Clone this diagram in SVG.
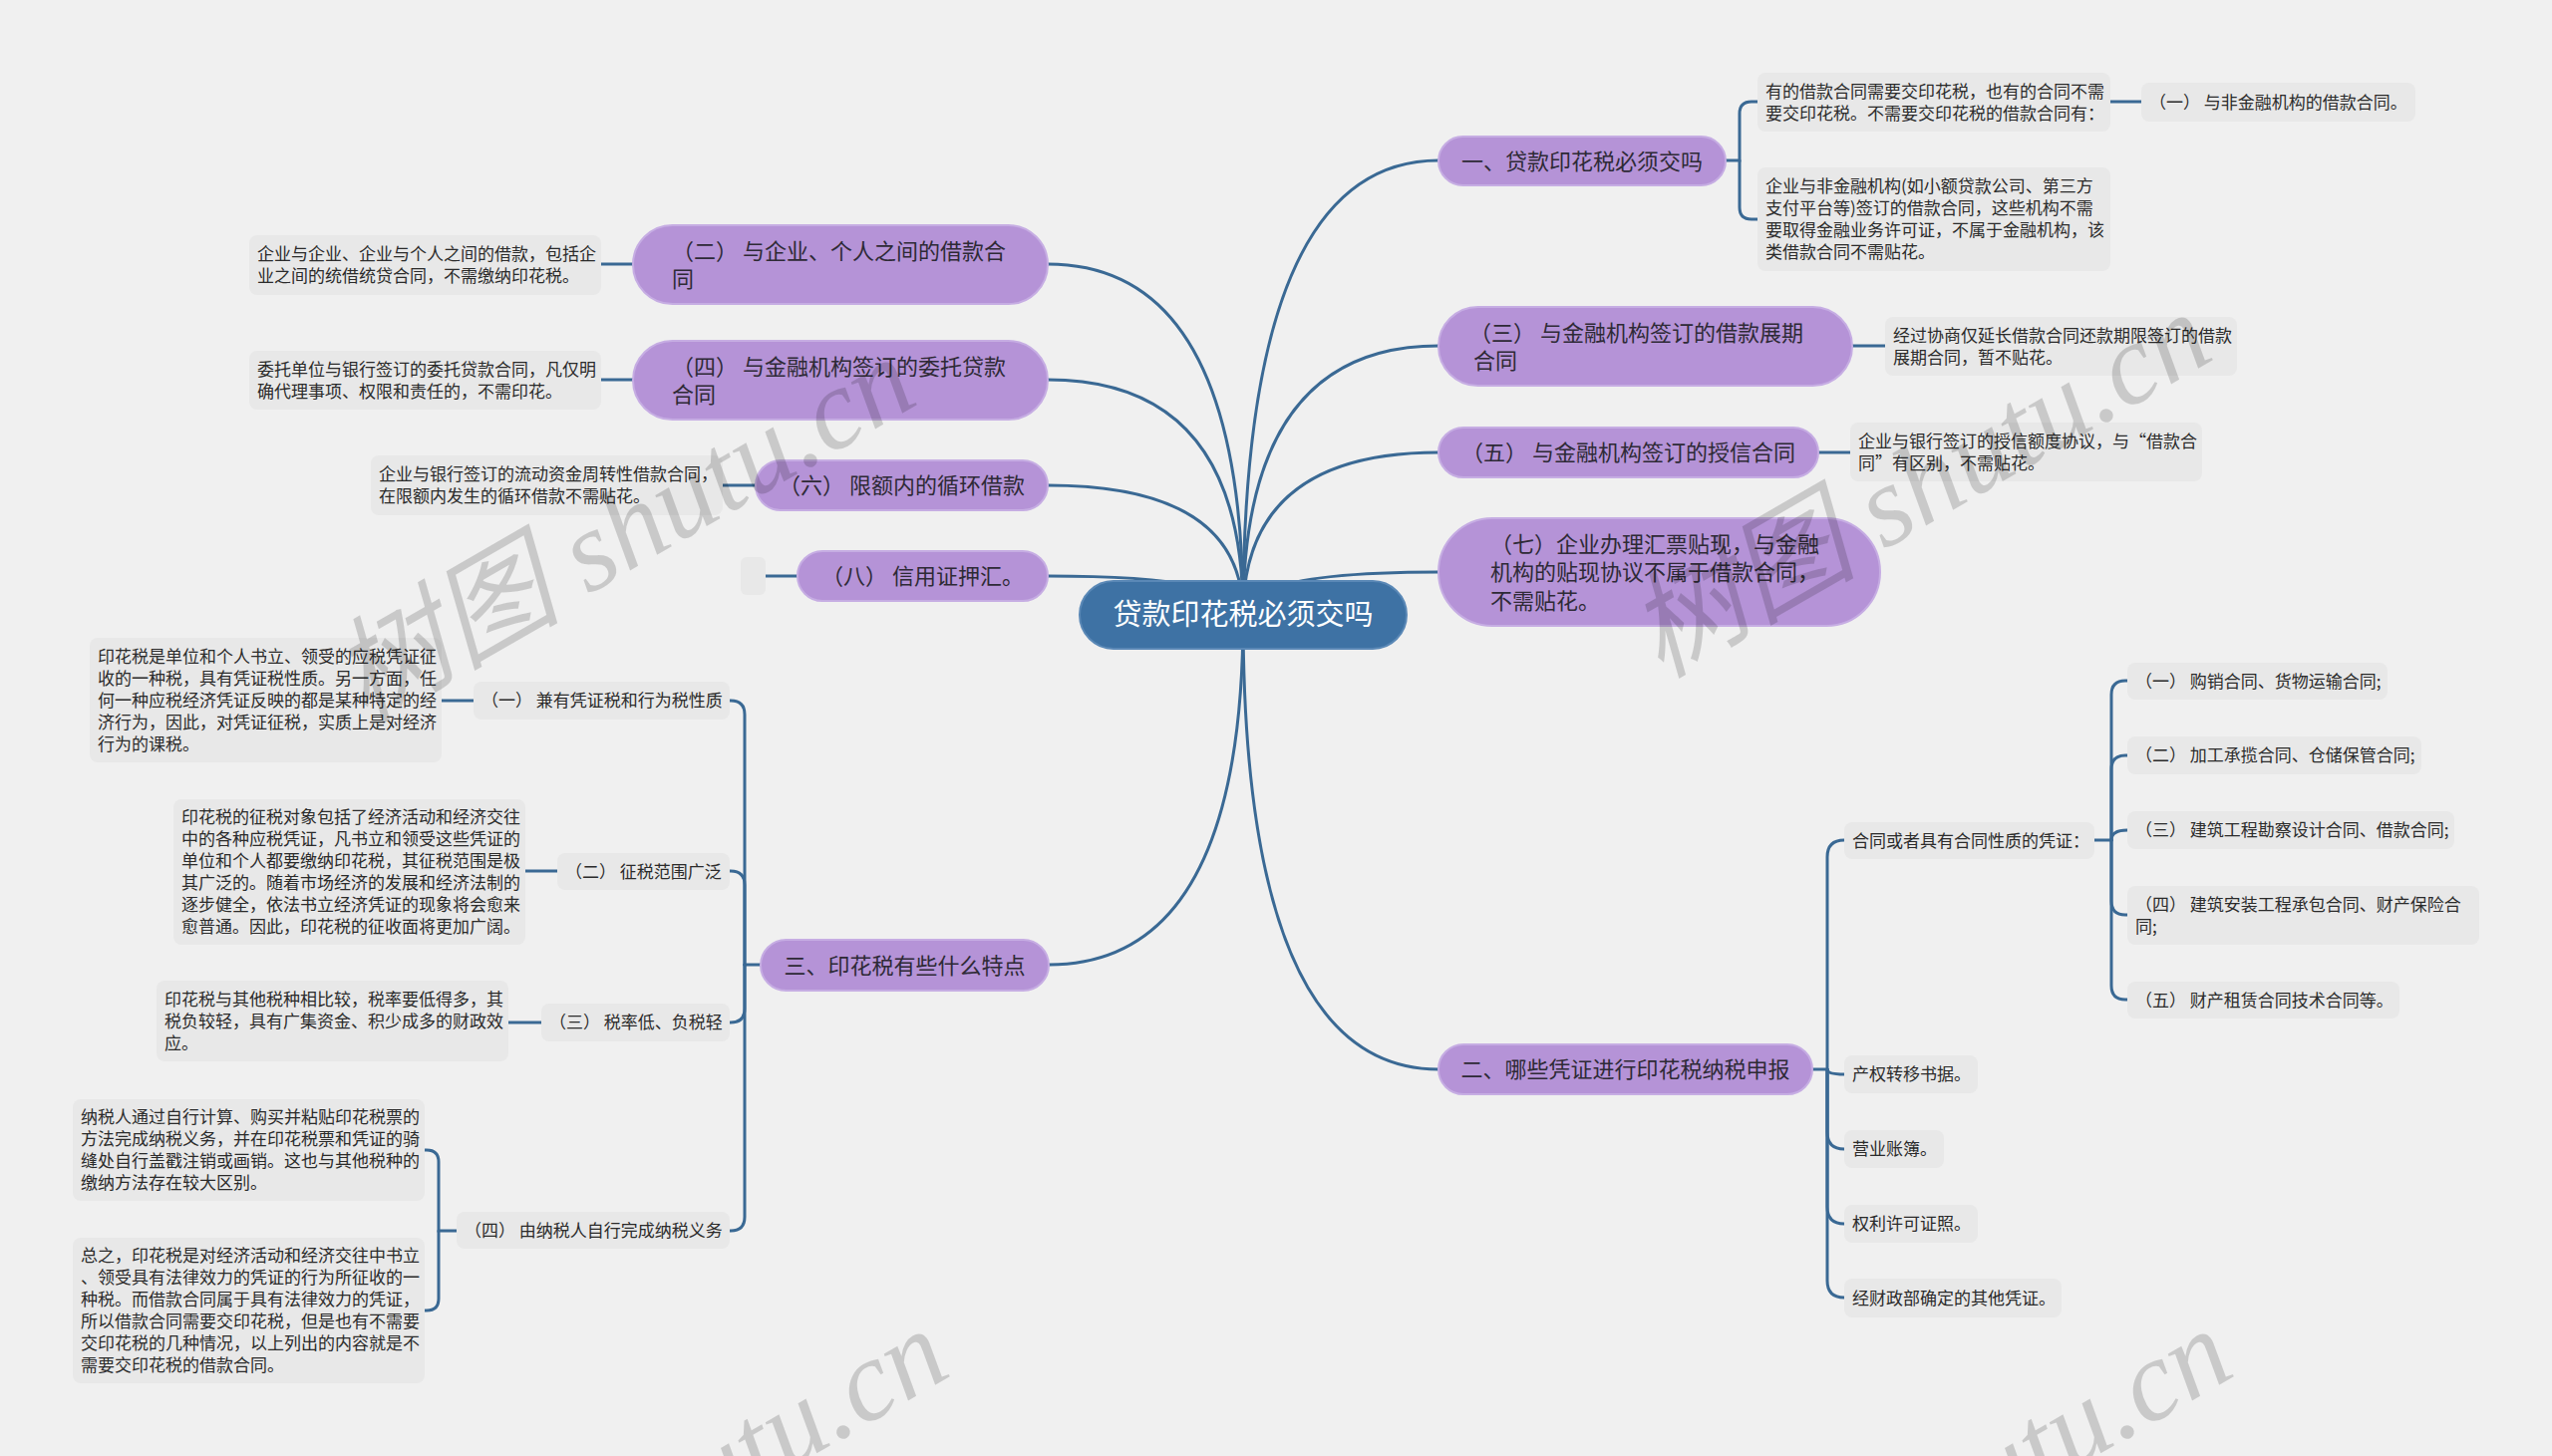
<svg xmlns="http://www.w3.org/2000/svg" width="2560" height="1461" viewBox="0 0 2560 1461">
<style>
.bg{fill:#f0f0f0}
.ln{fill:none;stroke:#3a6994;stroke-width:3;stroke-linecap:round}
.leaf{fill:#e8e8e8}
.main{fill:#b593d7;stroke:#c6ade3;stroke-width:2}
.root{fill:#3e72a4;stroke:#5a88b6;stroke-width:2}
text{font-family:"Noto Sans CJK SC","Noto Sans",sans-serif}
.t17{font-size:17px;fill:#2b2b2b}
.t22{font-size:22px;fill:#2e2a36}
.t29{font-size:29px;fill:#ffffff}
.mid{text-anchor:middle}
.wm{font-family:"Liberation Serif","Noto Sans CJK SC",serif;font-style:italic;font-size:115px;fill:#000;fill-opacity:0.16;text-anchor:middle}
</style>
<rect class="bg" x="0" y="0" width="2560" height="1461"/>

<g id="connectors">
  <path class="ln" d="M1247,617 Q1247,161 1443,161"/>
  <path class="ln" d="M1247,617 Q1247,347 1443,347"/>
  <path class="ln" d="M1247,617 Q1247,454 1443,454"/>
  <path class="ln" d="M1247,617 Q1247,574 1443,574"/>
  <path class="ln" d="M1247,617 Q1247,1073 1443,1073"/>
  <path class="ln" d="M1247,617 Q1247,265 1051,265"/>
  <path class="ln" d="M1247,617 Q1247,381 1051,381"/>
  <path class="ln" d="M1247,617 Q1247,487 1051,487"/>
  <path class="ln" d="M1247,617 Q1247,578 1051,578"/>
  <path class="ln" d="M1247,617 Q1247,968 1052,968"/>
  <path class="ln" d="M1731,161 H1745 V114 Q1745,102 1757,102 H1763"/>
  <path class="ln" d="M1745,161 V208 Q1745,220 1757,220 H1763"/>
  <path class="ln" d="M2117,102 H2148"/>
  <path class="ln" d="M1858,347 H1891"/>
  <path class="ln" d="M1824,454 H1856"/>
  <path class="ln" d="M1818,1073 H1833"/>
  <path class="ln" d="M1833,1073 V860 Q1833,843 1850,843"/>
  <path class="ln" d="M1833,1073 Q1833,1078 1850,1078"/>
  <path class="ln" d="M1833,1073 V1136 Q1833,1153 1850,1153"/>
  <path class="ln" d="M1833,1073 V1211 Q1833,1228 1850,1228"/>
  <path class="ln" d="M1833,1073 V1285 Q1833,1302 1850,1302"/>
  <path class="ln" d="M2101,843 H2118"/>
  <path class="ln" d="M2118,843 V697 Q2118,683 2132,683 H2134"/>
  <path class="ln" d="M2118,843 V772 Q2118,758 2132,758 H2134"/>
  <path class="ln" d="M2118,843 Q2118,833 2134,833"/>
  <path class="ln" d="M2118,843 V904 Q2118,918 2132,918 H2134"/>
  <path class="ln" d="M2118,843 V989 Q2118,1003 2132,1003 H2134"/>
  <path class="ln" d="M635,265 H603"/>
  <path class="ln" d="M635,381 H603"/>
  <path class="ln" d="M758,487 H725"/>
  <path class="ln" d="M800,578 H768"/>
  <path class="ln" d="M763,968 H747"/>
  <path class="ln" d="M747,968 V717 Q747,703 733,703 H732"/>
  <path class="ln" d="M747,968 V888 Q747,874 733,874 H732"/>
  <path class="ln" d="M747,968 V1012 Q747,1026 733,1026 H732"/>
  <path class="ln" d="M747,968 V1221 Q747,1235 733,1235 H732"/>
  <path class="ln" d="M475,703 H443"/>
  <path class="ln" d="M559,874 H527"/>
  <path class="ln" d="M543,1026 H510"/>
  <path class="ln" d="M458,1235 H440 V1166 Q440,1154 428,1154 H426"/>
  <path class="ln" d="M440,1235 V1303 Q440,1315 428,1315 H426"/>
</g>

<g id="root">
  <rect class="root" x="1083" y="583" width="328" height="68" rx="34"/>
  <text class="t29 mid" x="1247" y="627">贷款印花税必须交吗</text>
</g>

<g id="n-yi">
  <rect class="main" x="1443" y="137" width="288" height="49" rx="24.5"/>
  <text class="t22 mid" x="1587" y="169.5">一、贷款印花税必须交吗</text>
</g>
<g id="n-yi-a">
  <rect class="leaf" x="1763" y="73" width="354" height="59" rx="8"/>
  <text class="t17" x="1771"><tspan x="1771" y="97.5">有的借款合同需要交印花税，也有的合同不需</tspan><tspan x="1771" y="119.5">要交印花税。不需要交印花税的借款合同有：</tspan></text>
</g>
<g id="n-yi-a1">
  <rect class="leaf" x="2148" y="83" width="275" height="39" rx="8"/>
  <text class="t17" x="2156" y="108.5">（一） 与非金融机构的借款合同。</text>
</g>
<g id="n-yi-b">
  <rect class="leaf" x="1763" y="168" width="354" height="104" rx="8"/>
  <text class="t17"><tspan x="1771" y="193">企业与非金融机构(如小额贷款公司、第三方</tspan><tspan x="1771" y="215">支付平台等)签订的借款合同，这些机构不需</tspan><tspan x="1771" y="237">要取得金融业务许可证，不属于金融机构，该</tspan><tspan x="1771" y="259">类借款合同不需贴花。</tspan></text>
</g>

<g id="n-san-r">
  <rect class="main" x="1443" y="308" width="415" height="79" rx="39.5"/>
  <text class="t22"><tspan x="1474" y="341.5">（三） 与金融机构签订的借款展期</tspan><tspan x="1478" y="369.5">合同</tspan></text>
</g>
<g id="n-san-r-leaf">
  <rect class="leaf" x="1891" y="318" width="353" height="59" rx="8"/>
  <text class="t17"><tspan x="1899" y="342.5">经过协商仅延长借款合同还款期限签订的借款</tspan><tspan x="1899" y="364.5">展期合同，暂不贴花。</tspan></text>
</g>

<g id="n-wu">
  <rect class="main" x="1443" y="429" width="381" height="50" rx="25"/>
  <text class="t22 mid" x="1633.5" y="462">（五） 与金融机构签订的授信合同</text>
</g>
<g id="n-wu-leaf">
  <rect class="leaf" x="1856" y="424" width="353" height="59" rx="8"/>
  <text class="t17"><tspan x="1864" y="448.5">企业与银行签订的授信额度协议，与“借款合</tspan><tspan x="1864" y="470.5">同”有区别，不需贴花。</tspan></text>
</g>

<g id="n-qi">
  <rect class="main" x="1443" y="520" width="443" height="108" rx="54"/>
  <text class="t22"><tspan x="1495" y="553.5">（七）企业办理汇票贴现，与金融</tspan><tspan x="1495" y="582">机构的贴现协议不属于借款合同，</tspan><tspan x="1495" y="610.5">不需贴花。</tspan></text>
</g>

<g id="n-er-r">
  <rect class="main" x="1443" y="1048" width="375" height="50" rx="25"/>
  <text class="t22 mid" x="1630.5" y="1081">二、哪些凭证进行印花税纳税申报</text>
</g>
<g id="n-er-r-1">
  <rect class="leaf" x="1850" y="825" width="251" height="37" rx="8"/>
  <text class="t17" x="1858" y="849.5">合同或者具有合同性质的凭证：</text>
</g>
<g id="n-er-r-1a">
  <rect class="leaf" x="2134" y="665" width="261" height="37" rx="8"/>
  <text class="t17" x="2142" y="689.5">（一） 购销合同、货物运输合同;</text>
</g>
<g id="n-er-r-1b">
  <rect class="leaf" x="2134" y="739" width="295" height="38" rx="8"/>
  <text class="t17" x="2142" y="764">（二） 加工承揽合同、仓储保管合同;</text>
</g>
<g id="n-er-r-1c">
  <rect class="leaf" x="2134" y="814" width="328" height="38" rx="8"/>
  <text class="t17" x="2142" y="839">（三） 建筑工程勘察设计合同、借款合同;</text>
</g>
<g id="n-er-r-1d">
  <rect class="leaf" x="2134" y="889" width="353" height="59" rx="8"/>
  <text class="t17"><tspan x="2142" y="913.5">（四） 建筑安装工程承包合同、财产保险合</tspan><tspan x="2142" y="935.5">同;</tspan></text>
</g>
<g id="n-er-r-1e">
  <rect class="leaf" x="2134" y="985" width="273" height="37" rx="8"/>
  <text class="t17" x="2142" y="1009.5">（五） 财产租赁合同技术合同等。</text>
</g>
<g id="n-er-r-2">
  <rect class="leaf" x="1850" y="1059" width="134" height="38" rx="8"/>
  <text class="t17" x="1858" y="1084">产权转移书据。</text>
</g>
<g id="n-er-r-3">
  <rect class="leaf" x="1850" y="1134" width="100" height="38" rx="8"/>
  <text class="t17" x="1858" y="1159">营业账簿。</text>
</g>
<g id="n-er-r-4">
  <rect class="leaf" x="1850" y="1209" width="134" height="38" rx="8"/>
  <text class="t17" x="1858" y="1234">权利许可证照。</text>
</g>
<g id="n-er-r-5">
  <rect class="leaf" x="1850" y="1283" width="218" height="39" rx="8"/>
  <text class="t17" x="1858" y="1308.5">经财政部确定的其他凭证。</text>
</g>

<g id="n-er-l">
  <rect class="main" x="635" y="226" width="416" height="79" rx="39.5"/>
  <text class="t22"><tspan x="674" y="259.5">（二） 与企业、个人之间的借款合</tspan><tspan x="674" y="287.5">同</tspan></text>
</g>
<g id="n-er-l-leaf">
  <rect class="leaf" x="250" y="236" width="353" height="60" rx="8"/>
  <text class="t17"><tspan x="258" y="261">企业与企业、企业与个人之间的借款，包括企</tspan><tspan x="258" y="283">业之间的统借统贷合同，不需缴纳印花税。</tspan></text>
</g>

<g id="n-si-l">
  <rect class="main" x="635" y="342" width="416" height="79" rx="39.5"/>
  <text class="t22"><tspan x="674" y="375.5">（四） 与金融机构签订的委托贷款</tspan><tspan x="674" y="403.5">合同</tspan></text>
</g>
<g id="n-si-l-leaf">
  <rect class="leaf" x="250" y="352" width="353" height="59" rx="8"/>
  <text class="t17"><tspan x="258" y="376.5">委托单位与银行签订的委托贷款合同，凡仅明</tspan><tspan x="258" y="398.5">确代理事项、权限和责任的，不需印花。</tspan></text>
</g>

<g id="n-liu">
  <rect class="main" x="758" y="462" width="293" height="50" rx="25"/>
  <text class="t22 mid" x="904.5" y="495">（六） 限额内的循环借款</text>
</g>
<g id="n-liu-leaf">
  <rect class="leaf" x="372" y="457" width="353" height="60" rx="8"/>
  <text class="t17"><tspan x="380" y="482">企业与银行签订的流动资金周转性借款合同，</tspan><tspan x="380" y="504">在限额内发生的循环借款不需贴花。</tspan></text>
</g>

<g id="n-ba">
  <rect class="main" x="800" y="553" width="251" height="50" rx="25"/>
  <text class="t22 mid" x="925.5" y="586">（八） 信用证押汇。</text>
</g>
<g id="n-ba-leaf">
  <rect class="leaf" x="743" y="559" width="25" height="38" rx="6"/>
</g>

<g id="n-san-l">
  <rect class="main" x="763" y="943" width="289" height="51" rx="25.5"/>
  <text class="t22 mid" x="907.5" y="976.5">三、印花税有些什么特点</text>
</g>
<g id="n-san-1">
  <rect class="leaf" x="475" y="684" width="257" height="38" rx="8"/>
  <text class="t17" x="483" y="709">（一） 兼有凭证税和行为税性质</text>
</g>
<g id="n-san-1-leaf">
  <rect class="leaf" x="90" y="640" width="353" height="125" rx="8"/>
  <text class="t17"><tspan x="98" y="664.5">印花税是单位和个人书立、领受的应税凭证征</tspan><tspan x="98" y="686.5">收的一种税，具有凭证税性质。另一方面，任</tspan><tspan x="98" y="708.5">何一种应税经济凭证反映的都是某种特定的经</tspan><tspan x="98" y="730.5">济行为，因此，对凭证征税，实质上是对经济</tspan><tspan x="98" y="752.5">行为的课税。</tspan></text>
</g>
<g id="n-san-2">
  <rect class="leaf" x="559" y="856" width="173" height="37" rx="8"/>
  <text class="t17" x="567" y="880.5">（二） 征税范围广泛</text>
</g>
<g id="n-san-2-leaf">
  <rect class="leaf" x="174" y="802" width="353" height="146" rx="8"/>
  <text class="t17"><tspan x="182" y="826">印花税的征税对象包括了经济活动和经济交往</tspan><tspan x="182" y="848">中的各种应税凭证，凡书立和领受这些凭证的</tspan><tspan x="182" y="870">单位和个人都要缴纳印花税，其征税范围是极</tspan><tspan x="182" y="892">其广泛的。随着市场经济的发展和经济法制的</tspan><tspan x="182" y="914">逐步健全，依法书立经济凭证的现象将会愈来</tspan><tspan x="182" y="936">愈普通。因此，印花税的征收面将更加广阔。</tspan></text>
</g>
<g id="n-san-3">
  <rect class="leaf" x="543" y="1007" width="189" height="38" rx="8"/>
  <text class="t17" x="551" y="1032">（三） 税率低、负税轻</text>
</g>
<g id="n-san-3-leaf">
  <rect class="leaf" x="157" y="984" width="353" height="81" rx="8"/>
  <text class="t17"><tspan x="165" y="1008.5">印花税与其他税种相比较，税率要低得多，其</tspan><tspan x="165" y="1030.5">税负较轻，具有广集资金、积少成多的财政效</tspan><tspan x="165" y="1052.5">应。</tspan></text>
</g>
<g id="n-san-4">
  <rect class="leaf" x="458" y="1216" width="274" height="37" rx="8"/>
  <text class="t17" x="466" y="1240.5">（四） 由纳税人自行完成纳税义务</text>
</g>
<g id="n-san-4-leaf1">
  <rect class="leaf" x="73" y="1103" width="353" height="102" rx="8"/>
  <text class="t17"><tspan x="81" y="1127">纳税人通过自行计算、购买并粘贴印花税票的</tspan><tspan x="81" y="1149">方法完成纳税义务，并在印花税票和凭证的骑</tspan><tspan x="81" y="1171">缝处自行盖戳注销或画销。这也与其他税种的</tspan><tspan x="81" y="1193">缴纳方法存在较大区别。</tspan></text>
</g>
<g id="n-san-4-leaf2">
  <rect class="leaf" x="73" y="1242" width="353" height="146" rx="8"/>
  <text class="t17"><tspan x="81" y="1266">总之，印花税是对经济活动和经济交往中书立</tspan><tspan x="81" y="1288">、领受具有法律效力的凭证的行为所征收的一</tspan><tspan x="81" y="1310">种税。而借款合同属于具有法律效力的凭证，</tspan><tspan x="81" y="1332">所以借款合同需要交印花税，但是也有不需要</tspan><tspan x="81" y="1354">交印花税的几种情况，以上列出的内容就是不</tspan><tspan x="81" y="1376">需要交印花税的借款合同。</tspan></text>
</g>

<g id="watermarks">
  <text class="wm" transform="translate(645,565) rotate(-30)">树图 shutu.cn</text>
  <text class="wm" transform="translate(1945,520) rotate(-30)">树图 shutu.cn</text>
  <text class="wm" transform="translate(678,1540) rotate(-30)">树图 shutu.cn</text>
  <text class="wm" transform="translate(1966,1540) rotate(-30)">树图 shutu.cn</text>
</g>
</svg>
